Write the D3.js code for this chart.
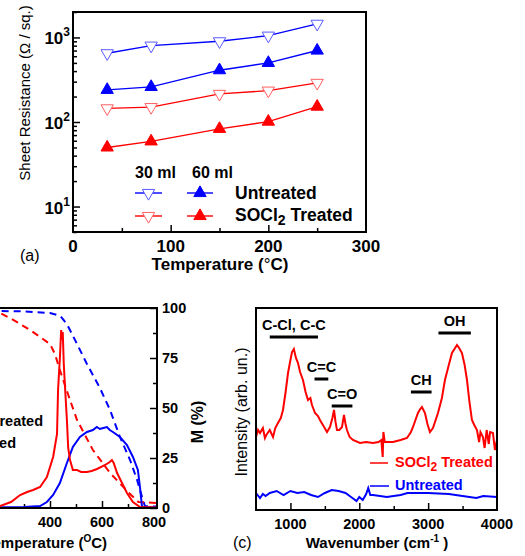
<!DOCTYPE html>
<html>
<head>
<meta charset="utf-8">
<script src="https://d3js.org/d3.v7.min.js"></script>
<style>
body { margin: 0; background: #fff; }
svg { font-family: "Liberation Sans", Arial, sans-serif; }
.frame { fill: none; stroke: #000; stroke-width: 2; }
.tick line { stroke: #000; stroke-width: 1.5; }
.domain { display: none; }
.b { font-weight: bold; }
</style>
</head>
<body>
<svg id="fig" width="525" height="556"></svg>
<script>
// ---- (a) sheet resistance ----
var tempA = [35, 80, 150, 200, 250];
var untreated30 = [650, 800, 900, 1050, 1450];
var untreated60 = [240, 260, 410, 500, 700];
var treated30 = [145, 150, 215, 235, 290];
var treated60 = [50, 59, 83, 101, 152];
var xTicksA = [0, 100, 200, 300];
var yExpA = [1, 2, 3];

// ---- (b) thermal analysis, [T, M%] ----
var tgaUntreated = [[30,100],[150,99.5],[208,98.5],[300,98.3],[400,97.5],[440,96],[465,92],[504,82],[542,72],[592,60],[631,49],[669,35.5],[708,24],[735,14],[754,5.5],[765,1],[811,0.7]];
var tgaTreated = [[30,100],[150,99],[208,97.5],[246,95],[285,92],[323,89],[362,85.5],[400,82],[419,77],[438,69],[469,57],[504,44],[565,29],[631,17.5],[708,7],[740,3],[811,2.5]];
var dtgTreated = [[30,0],[150,0.5],[208,1],[250,3],[285,6.5],[312,8],[335,9],[362,10.5],[388,15.5],[412,25.5],[427,37],[431,59],[438,75],[443,89],[446,84],[449,88],[453,72],[458,60],[465,44],[470,30],[477,24],[488,19],[504,19],[520,18],[542,18],[560,18.5],[581,19.5],[612,21.5],[630,23],[638,24],[645,22.5],[658,17.5],[677,12.5],[696,7.5],[719,3],[746,0.5],[811,0.3]];
var dtgUntreated = [[30,0.3],[300,0.5],[362,1],[388,3],[412,6.5],[438,12.5],[465,22.5],[488,30.5],[515,35.5],[542,38],[565,39],[580,40.5],[592,39.5],[605,40],[619,40.5],[630,39],[642,38],[669,35.5],[696,31.5],[719,25.5],[738,19],[746,10.5],[754,0.5],[811,0.3]];
var xTicksB = [400, 600, 800];
var yTicksB = [0, 25, 50, 75, 100];

// ---- (c) spectra, [wavenumber, intensity] ----
var specTreated = [[500,73],[530,80],[558,77],[600,82],[630,72],[650,75],[700,80],[747,73],[780,82],[819,87],[860,92],[892,100],[930,118],[965,137],[1000,150],[1023,158],[1050,161],[1080,152],[1110,147],[1140,138],[1182,130],[1220,118],[1255,110],[1290,112],[1313,105],[1357,97],[1400,94],[1429,90],[1480,84],[1531,78],[1574,83],[1610,92],[1633,100],[1655,88],[1676,80],[1710,80],[1749,83],[1778,95],[1800,86],[1821,80],[1860,73],[1908,70],[2010,67],[2100,68],[2199,67],[2280,68],[2320,70],[2340,53],[2350,78],[2370,68],[2489,68],[2600,70],[2693,72],[2750,78],[2780,83],[2852,97],[2885,101],[2910,103],[2954,97],[2990,86],[3026,78],[3070,82],[3143,97],[3200,112],[3244,130],[3300,145],[3346,157],[3419,165],[3450,162],[3491,157],[3530,145],[3564,130],[3600,108],[3636,90],[3670,85],[3709,80],[3740,68],[3760,78],[3796,73],[3820,62],[3850,80],[3880,66],[3900,78],[3941,77],[3970,60],[4000,70]];
var specUntreated = [[500,17],[558,12],[600,16],[640,14],[700,17],[800,19],[900,15],[1000,19],[1100,17],[1200,18],[1300,15],[1400,13],[1500,17],[1600,20],[1700,19],[1800,17],[1900,12],[1960,9],[2000,13],[2050,10],[2100,16],[2130,22],[2160,15],[2200,15],[2400,13],[2600,15],[2700,17],[3000,17],[3300,16],[3500,14],[3700,12],[3800,14],[4000,13]];
var bandNames = ["C-Cl, C-C", "C=C", "C=O", "CH", "OH"];
var bandFrom = [700, 1350, 1600, 2750, 3150];
var bandTo = [1400, 1550, 1900, 3050, 3620];
var bandLevel = [173, 131, 104, 118, 177];
var xTicksC = [1000, 2000, 3000, 4000];

var BLUE = "#0000ff", RED = "#ff0000";
var svg = d3.select("#fig");

// ================= panel (a) =================
var A = {l: 73, t: 12, r: 366, b: 232};
var xA = d3.scaleLinear().domain([0, 300]).range([A.l, A.r]);
var yA = d3.scaleLog().domain([5, 2000]).range([A.b, A.t]);
var gA = svg.append("g");

var minorA = [];
[1, 10, 100, 1000].forEach(function(d) {
  for (var k = 2; k <= 9; k++) { var v = d * k; if (v >= 5 && v <= 2000 && v !== 10 && v !== 100 && v !== 1000) minorA.push(v); }
});
gA.append("g").attr("transform", "translate(" + A.l + ",0)")
  .call(d3.axisLeft(yA).tickValues(minorA).tickSize(-4).tickFormat(""));
gA.append("g").attr("transform", "translate(" + A.l + ",0)")
  .call(d3.axisLeft(yA).tickValues(yExpA.map(function(e) { return Math.pow(10, e); })).tickSize(-7).tickFormat(""));
gA.append("g").attr("transform", "translate(0," + A.b + ")")
  .call(d3.axisBottom(xA).tickValues([50, 150, 250]).tickSize(-4).tickFormat(""));
gA.append("g").attr("transform", "translate(0," + A.b + ")")
  .call(d3.axisBottom(xA).tickValues([100, 200]).tickSize(-7).tickFormat(""));

yExpA.forEach(function(e) {
  var t = gA.append("text").attr("class", "b").attr("x", A.l - 3).attr("y", yA(Math.pow(10, e)) + 7)
    .attr("text-anchor", "end").style("font-size", "17px");
  t.append("tspan").text("10");
  t.append("tspan").attr("dy", -8).style("font-size", "12px").text(e);
});
xTicksA.forEach(function(v) {
  gA.append("text").attr("class", "b").attr("x", xA(v)).attr("y", A.b + 20)
    .attr("text-anchor", "middle").style("font-size", "17px").text(v);
});

gA.append("rect").attr("class", "frame").attr("x", A.l).attr("y", A.t)
  .attr("width", A.r - A.l).attr("height", A.b - A.t);

var seriesA = [
  {v: untreated30, c: BLUE, m: "#5a5aff", open: true},
  {v: untreated60, c: BLUE, m: BLUE, open: false},
  {v: treated30, c: RED, m: "#ff6060", open: true},
  {v: treated60, c: RED, m: RED, open: false}
];
var lineA = d3.line().x(function(d, i) { return xA(tempA[i]); }).y(function(d) { return yA(d); });
var tri = d3.symbol().type(d3.symbolTriangle).size(66);

function marker(g, x, y, s) {
  g.append("path").attr("d", tri)
    .attr("transform", "translate(" + x + "," + y + ")" + (s.open ? " rotate(180)" : ""))
    .attr("fill", s.open ? "#fff" : s.m)
    .attr("stroke", s.m).attr("stroke-width", 1);
}
seriesA.forEach(function(s) {
  gA.append("path").datum(s.v).attr("d", lineA).attr("fill", "none")
    .attr("stroke", s.c).attr("stroke-width", 1.4);
  s.v.forEach(function(d, i) { marker(gA, xA(tempA[i]), yA(d), s); });
});

// legend (a)
gA.append("text").attr("class", "b").attr("x", 135).attr("y", 178).style("font-size", "16px").text("30 ml");
gA.append("text").attr("class", "b").attr("x", 192).attr("y", 178).style("font-size", "16px").text("60 ml");
[[seriesA[0], seriesA[1], 193], [seriesA[2], seriesA[3], 216]].forEach(function(row) {
  [[row[0], 135, 162], [row[1], 187, 213]].forEach(function(it) {
    gA.append("line").attr("x1", it[1]).attr("x2", it[2]).attr("y1", row[2]).attr("y2", row[2])
      .attr("stroke", it[0].c).attr("stroke-width", 1.4);
    marker(gA, (it[1] + it[2]) / 2, row[2], it[0]);
  });
});
gA.append("text").attr("class", "b").attr("x", 235).attr("y", 199).style("font-size", "17.5px").text("Untreated");
var sT = gA.append("text").attr("class", "b").attr("x", 235).attr("y", 221).style("font-size", "17.5px");
sT.append("tspan").text("SOCl");
sT.append("tspan").attr("dy", 4).style("font-size", "14px").text("2");
sT.append("tspan").attr("dy", -4).text(" Treated");

gA.append("text").attr("transform", "translate(30,93) rotate(-90)").attr("text-anchor", "middle")
  .style("font-size", "15px").text("Sheet Resistance (\u03A9 / sq.)");
var tA = gA.append("text").attr("class", "b").attr("x", 220).attr("y", 270).attr("text-anchor", "middle")
  .style("font-size", "17px");
tA.append("tspan").text("Temperature (");
tA.append("tspan").style("font-weight", "normal").text("\u00B0");
tA.append("tspan").text("C)");
gA.append("text").attr("x", 20).attr("y", 261).style("font-size", "16px").text("(a)");

// ================= panel (b) =================
var B = {r: 157, t: 308, b: 508};
var xB = d3.scaleLinear().domain([400, 800]).range([50, 154]);
var yB = d3.scaleLinear().domain([0, 100]).range([B.b, B.t]);
var gB = svg.append("g");
svg.append("clipPath").attr("id", "clipB").append("rect")
  .attr("x", -10).attr("y", B.t).attr("width", B.r + 10).attr("height", B.b - B.t);

gB.append("g").attr("transform", "translate(0," + B.b + ")")
  .call(d3.axisBottom(xB).tickValues([300, 500, 700]).tickSize(-4).tickFormat(""));
gB.append("g").attr("transform", "translate(0," + B.b + ")")
  .call(d3.axisBottom(xB).tickValues([200, 400, 600]).tickSize(-7).tickFormat(""));
gB.append("g").attr("transform", "translate(" + B.r + ",0)")
  .call(d3.axisRight(yB).tickValues([12.5, 37.5, 62.5, 87.5]).tickSize(-4).tickFormat(""));
gB.append("g").attr("transform", "translate(" + B.r + ",0)")
  .call(d3.axisRight(yB).tickValues(yTicksB).tickSize(-7).tickFormat(""));

var lineB = d3.line().x(function(d) { return xB(d[0]); }).y(function(d) { return yB(d[1]); });
var cB = gB.append("g").attr("clip-path", "url(#clipB)");
[[tgaUntreated, BLUE, true], [tgaTreated, RED, true], [dtgUntreated, BLUE, false], [dtgTreated, RED, false]]
  .forEach(function(s) {
    cB.append("path").datum(s[0]).attr("d", lineB).attr("fill", "none")
      .attr("stroke", s[1]).attr("stroke-width", 2)
      .attr("stroke-dasharray", s[2] ? "7,5" : null);
  });

gB.append("path").attr("class", "frame")
  .attr("d", "M-5," + B.t + "H" + B.r + "V" + B.b + "H-5");

xTicksB.forEach(function(v) {
  gB.append("text").attr("class", "b").attr("x", xB(v)).attr("y", B.b + 19)
    .attr("text-anchor", "middle").style("font-size", "14.5px").text(v);
});
yTicksB.forEach(function(v) {
  gB.append("text").attr("class", "b").attr("x", B.r + 5).attr("y", yB(v) + 5)
    .style("font-size", "14.5px").text(v);
});
gB.append("text").attr("class", "b").attr("transform", "translate(203,422) rotate(-90)")
  .attr("text-anchor", "middle").style("font-size", "16px").text("M (%)");
var tB = gB.append("text").attr("class", "b").attr("x", 107).attr("y", 548).attr("text-anchor", "end")
  .style("font-size", "15px");
tB.append("tspan").text("Temperature (");
tB.append("tspan").attr("dy", -6).style("font-size", "10px").text("O");
tB.append("tspan").attr("dy", 6).text("C)");
gB.append("text").attr("class", "b").attr("x", 43).attr("y", 426).attr("text-anchor", "end")
  .style("font-size", "14.5px").text("Untreated");
gB.append("text").attr("class", "b").attr("x", 16).attr("y", 448).attr("text-anchor", "end")
  .style("font-size", "14.5px").text("Treated");

// ================= panel (c) =================
var C = {l: 256, r: 497, t: 308, b: 510};
var xC = d3.scaleLinear().domain([500, 4000]).range([C.l, C.r]);
var yC = d3.scaleLinear().domain([0, 202]).range([C.b, C.t]);
var gC = svg.append("g");
svg.append("clipPath").attr("id", "clipC").append("rect")
  .attr("x", C.l).attr("y", C.t).attr("width", C.r - C.l).attr("height", C.b - C.t);

gC.append("g").attr("transform", "translate(0," + C.b + ")")
  .call(d3.axisBottom(xC).tickValues([1500, 2500, 3500]).tickSize(-4).tickFormat(""));
gC.append("g").attr("transform", "translate(0," + C.b + ")")
  .call(d3.axisBottom(xC).tickValues([1000, 2000, 3000]).tickSize(-7).tickFormat(""));

var lineC = d3.line().x(function(d) { return xC(d[0]); }).y(function(d) { return yC(d[1]); });
var cC = gC.append("g").attr("clip-path", "url(#clipC)");
cC.append("path").datum(specUntreated).attr("d", lineC).attr("fill", "none").attr("stroke", BLUE).attr("stroke-width", 2);
cC.append("path").datum(specTreated).attr("d", lineC).attr("fill", "none").attr("stroke", RED).attr("stroke-width", 2);

gC.append("rect").attr("class", "frame").attr("x", C.l).attr("y", C.t)
  .attr("width", C.r - C.l).attr("height", C.b - C.t);

bandNames.forEach(function(n, i) {
  var y = yC(bandLevel[i]);
  gC.append("line").attr("x1", xC(bandFrom[i])).attr("x2", xC(bandTo[i])).attr("y1", y).attr("y2", y)
    .attr("stroke", "#000").attr("stroke-width", 3);
  gC.append("text").attr("class", "b").attr("x", (xC(bandFrom[i]) + xC(bandTo[i])) / 2).attr("y", y - 7)
    .attr("text-anchor", "middle").style("font-size", "14.5px").text(n);
});

gC.append("line").attr("x1", 370).attr("x2", 388).attr("y1", 463).attr("y2", 463).attr("stroke", RED).attr("stroke-width", 1.5);
gC.append("line").attr("x1", 370).attr("x2", 389).attr("y1", 486).attr("y2", 486).attr("stroke", BLUE).attr("stroke-width", 1.5);
var lc = gC.append("text").attr("class", "b").attr("x", 395).attr("y", 467).attr("fill", RED).style("font-size", "14.5px");
lc.append("tspan").text("SOCl");
lc.append("tspan").attr("dy", 4).style("font-size", "12px").text("2");
lc.append("tspan").attr("dy", -4).text(" Treated");
gC.append("text").attr("class", "b").attr("x", 395).attr("y", 490).attr("fill", BLUE).style("font-size", "14.5px").text("Untreated");

xTicksC.forEach(function(v) {
  gC.append("text").attr("class", "b").attr("x", xC(v)).attr("y", C.b + 19)
    .attr("text-anchor", "middle").style("font-size", "14.5px").text(v);
});
gC.append("text").attr("transform", "translate(247,412) rotate(-90)").attr("text-anchor", "middle")
  .style("font-size", "16px").text("Intensity (arb. un.)");
var tC = gC.append("text").attr("class", "b").attr("x", 377).attr("y", 548).attr("text-anchor", "middle")
  .style("font-size", "15px");
tC.append("tspan").text("Wavenumber (cm");
tC.append("tspan").attr("dy", -6).style("font-size", "10px").text("-1");
tC.append("tspan").attr("dy", 6).text(" )");
gC.append("text").attr("x", 233).attr("y", 548).style("font-size", "16px").text("(c)");
</script>
</body>
</html>
